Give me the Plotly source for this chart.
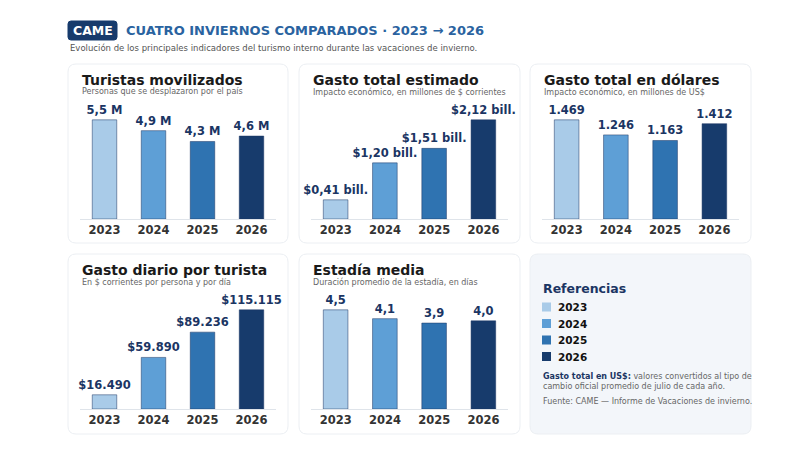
import plotly.graph_objects as go

years = ["2023", "2024", "2025", "2026"]
colors = ["#a9cbe8", "#5e9fd6", "#2f73b1", "#173b6c"]
turistas = [5.5, 4.9, 4.3, 4.6]
turistas_lbl = ["5,5 M", "4,9 M", "4,3 M", "4,6 M"]
gasto = [0.41, 1.20, 1.51, 2.12]
gasto_lbl = ["$0,41 bill.", "$1,20 bill.", "$1,51 bill.", "$2,12 bill."]
usd = [1469, 1246, 1163, 1412]
usd_lbl = ["1.469", "1.246", "1.163", "1.412"]
diario = [16490, 59890, 89236, 115115]
diario_lbl = ["$16.490", "$59.890", "$89.236", "$115.115"]
estadia = [4.5, 4.1, 3.9, 4.0]
estadia_lbl = ["4,5", "4,1", "3,9", "4,0"]

titles = ["Turistas movilizados", "Gasto total estimado", "Gasto total en dólares",
          "Gasto diario por turista", "Estadía media"]
subs = ["Personas que se desplazaron por el país",
        "Impacto económico, en millones de $ corrientes",
        "Impacto económico, en millones de US$",
        "En $ corrientes por persona y por día",
        "Duración promedio de la estadía, en días"]

W, H = 800, 463
OFF = 8  # page body margin
def px(x): return (x - OFF) / W
def py(y): return 1 - (y - OFF) / H

panels = [(68, 64, 288, 243), (299, 64, 520, 243), (530, 64, 751, 243),
          (68, 254, 288, 434), (299, 254, 520, 434)]
data = [(turistas, turistas_lbl), (gasto, gasto_lbl), (usd, usd_lbl),
        (diario, diario_lbl), (estadia, estadia_lbl)]

fig = go.Figure()
shapes, annots = [], []

def rrect(x0, y0, x1, y1, r, fill, line):
    p = (f"M {px(x0+r)},{py(y0)} L {px(x1-r)},{py(y0)} Q {px(x1)},{py(y0)} {px(x1)},{py(y0+r)} "
         f"L {px(x1)},{py(y1-r)} Q {px(x1)},{py(y1)} {px(x1-r)},{py(y1)} "
         f"L {px(x0+r)},{py(y1)} Q {px(x0)},{py(y1)} {px(x0)},{py(y1-r)} "
         f"L {px(x0)},{py(y0+r)} Q {px(x0)},{py(y0)} {px(x0+r)},{py(y0)} Z")
    return dict(type="path", path=p, xref="paper", yref="paper", fillcolor=fill,
                line=dict(color=line, width=1), layer="below")

def txt(x, y, text, size, color, xanchor="left", align="left"):
    annots.append(dict(x=px(x), y=py(y), xref="paper", yref="paper", xanchor=xanchor,
                       yanchor="middle", showarrow=False, text=text, align=align,
                       font=dict(size=size, color=color)))

for i, ((x0, y0, x1, y1), (vals, lbls)) in enumerate(zip(panels, data)):
    k = "" if i == 0 else str(i + 1)
    shapes.append(rrect(x0, y0, x1, y1, 8, "white", "#eceff3"))
    txt(x0 + 12, y0 + 16, f"<b>{titles[i]}</b>", 14, "#1a1a1a")
    txt(x0 + 12, y0 + 28, subs[i], 8, "#666")
    base = y0 + 155
    top = y0 + 36
    fig.add_trace(go.Bar(x=years, y=vals, text=[f"<b>{t}</b>" for t in lbls],
                         textposition="outside", cliponaxis=False, constraintext="none",
                         textfont=dict(size=11.5, color="#1b3563"),
                         marker=dict(color=colors, line=dict(color="#1b3563", width=0.5)),
                         xaxis="x" + k, yaxis="y" + k, showlegend=False, hoverinfo="skip"))
    fig.layout["xaxis" + k] = dict(domain=[px(x0 + 12), px(x1 - 12)], anchor="y" + k,
                                   showline=True, linecolor="#dfe4ea", ticks="",
                                   tickfont=dict(size=11.5, color="#333", weight="bold"),
                                   showgrid=False, fixedrange=True)
    fig.layout["yaxis" + k] = dict(domain=[py(base), py(top)], anchor="x" + k,
                                   range=[0, max(vals) * 1.2], visible=False, fixedrange=True)

# legend panel
shapes.append(rrect(530, 254, 751, 434, 8, "#f3f6fa", "#eceff3"))
txt(541, 288, "<b>Referencias</b>", 12.5, "#1b3563")
for j, (yr, c) in enumerate(zip(years, colors)):
    yc = 307 + j * 16.5
    shapes.append(dict(type="rect", xref="paper", yref="paper", x0=px(542), x1=px(551),
                       y0=py(yc - 4.5), y1=py(yc + 4.5), fillcolor=c, line=dict(width=0)))
    txt(556, yc, f"<b>{yr}</b>", 10.5, "#111")
txt(541, 381, "<b style='color:#1b3563'>Gasto total en US$:</b> valores convertidos al tipo de<br>cambio oficial promedio de julio de cada año.", 8, "#666")
txt(541, 401, "Fuente: CAME — Informe de Vacaciones de invierno.", 8, "#666")

# header
shapes.append(rrect(68, 21, 117, 40, 3, "#173b6c", "#173b6c"))
txt(92.5, 30.5, "<b>CAME</b>", 12.5, "white", xanchor="center")
txt(124, 30.5, "<b>CUATRO INVIERNOS COMPARADOS · 2023 → 2026</b>", 13, "#2a63a0")
txt(68, 48, "Evolución de los principales indicadores del turismo interno durante las vacaciones de invierno.", 8.5, "#555")

fig.update_layout(width=W, height=H, margin=dict(l=0, r=0, t=0, b=0),
                  paper_bgcolor="white", plot_bgcolor="rgba(0,0,0,0)",
                  font=dict(family="DejaVu Sans"), bargap=0.5,
                  shapes=shapes, annotations=annots)
fig.write_html("out.html")
